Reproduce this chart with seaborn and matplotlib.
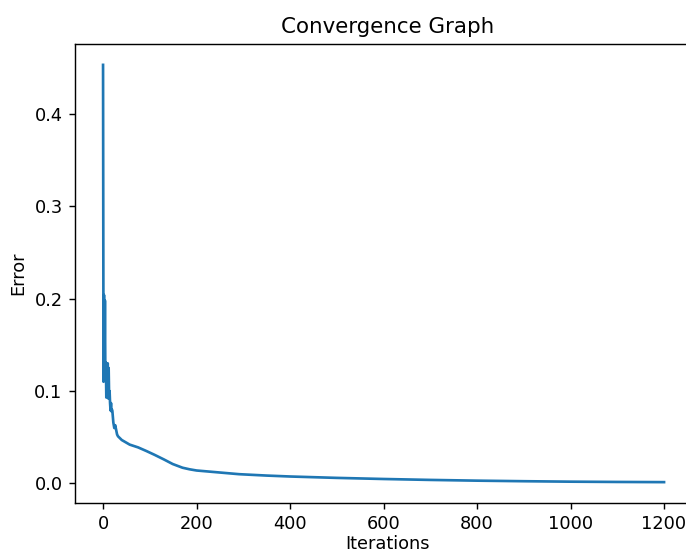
import matplotlib
matplotlib.use("Agg")
import matplotlib.pyplot as plt
import pandas as pd
import seaborn as sns

iterations = [0, 1, 2, 3, 4, 5, 6, 7, 8, 9, 10, 11, 12, 13, 14, 15, 16, 17, 18,
              19, 20, 22, 24, 26, 28, 30, 32, 40, 57, 75, 93, 110, 130, 149,
              170, 185, 200, 250, 291, 350, 400, 500, 600, 700, 800, 900, 1000,
              1100, 1200]
errors = [0.453, 0.110, 0.204, 0.115, 0.198, 0.112, 0.131, 0.093, 0.129, 0.095,
          0.130, 0.092, 0.125, 0.094, 0.100, 0.087, 0.079, 0.087, 0.078, 0.080,
          0.078, 0.066, 0.060, 0.063, 0.058, 0.053, 0.051, 0.047, 0.042, 0.039,
          0.035, 0.031, 0.026, 0.021, 0.017, 0.0153, 0.0140, 0.0118, 0.0100,
          0.0085, 0.0075, 0.0060, 0.0048, 0.0038, 0.0030, 0.0024, 0.0019,
          0.0016, 0.0014]

df = pd.DataFrame({"Iterations": iterations, "Error": errors})

DPI = 128
W, H = 686, 554
fig = plt.figure(figsize=(W / DPI, H / DPI), dpi=DPI)
# right spine falls outside the canvas, as in the cropped original
ax = fig.add_axes([75 / W, 51 / H, 625 / W, 459 / H])
sns.lineplot(data=df, x="Iterations", y="Error", ax=ax, color="#1f77b4")
ax.set_xlim(-60, -60 + 625 / 0.4675)
ax.spines["right"].set_visible(False)
ax.set_title("Convergence Graph")
ax.set_xlabel("Iterations", labelpad=1)
ax.set_ylabel("Error")
ax.set_xticks([0, 200, 400, 600, 800, 1000, 1200])
ax.set_yticks([0.0, 0.1, 0.2, 0.3, 0.4])

fig.savefig("out.png", dpi=DPI)
